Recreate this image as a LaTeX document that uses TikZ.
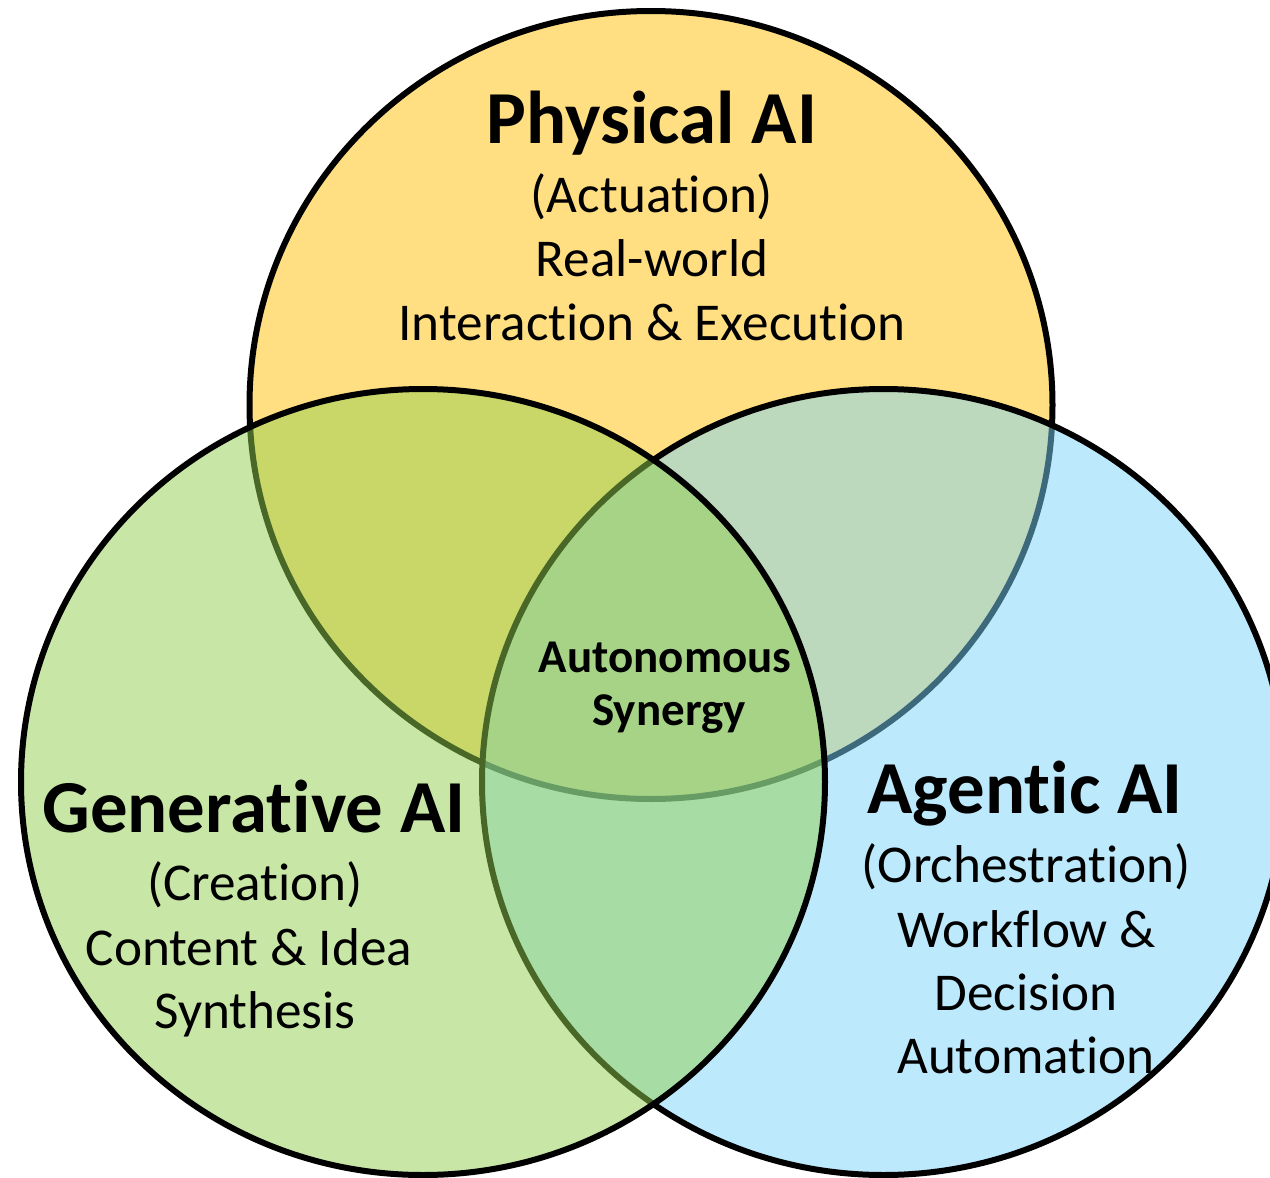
\documentclass[tikz,border=0pt]{standalone}
\usepackage{fontspec}
\setmainfont{Carlito}[Ligatures={NoCommon}]
\definecolor{physY}{RGB}{255,223,130}
\definecolor{genG}{RGB}{146,208,80}
\definecolor{agB}{RGB}{123,211,249}
\begin{document}
\begin{tikzpicture}[x=0.5pt,y=-0.5pt,
  venn/.style={line width=3pt, draw=black},
  ttl/.style={font=\fontsize{37.4}{44}\selectfont\bfseries, anchor=base, inner sep=0pt},
  bodytxt/.style={font=\fontsize{26.6}{32}\selectfont, anchor=base, inner sep=0pt},
  coretxt/.style={font=\fontsize{23.5}{28}\selectfont\bfseries, anchor=base, inner sep=0pt}]
\useasboundingbox (0,0) rectangle (1270,1178);
\clip (0,0) rectangle (1270,1178);
% Physical AI (opaque, drawn first)
\draw[venn, fill=physY] (651,405) ellipse [x radius=401.5, y radius=394];
% Agentic AI (translucent)
\draw[venn, fill=agB, fill opacity=0.5] (883.5,782) ellipse [x radius=401.5, y radius=393];
% Generative AI (translucent, on top)
\draw[venn, fill=genG, fill opacity=0.5] (423,782) ellipse [x radius=402, y radius=393];
% Physical AI text
\node[ttl] (pt) at (652,143) {Physical AI};
\node[bodytxt] (p1) at (652,212) {(Actuation)};
\node[bodytxt] (p2) at (652,276) {Real-world};
\node[bodytxt] (p3) at (652,340) {Interaction \& Execution};
% Generative AI text
\node[ttl] (gt) at (254,832) {Generative AI};
\node[bodytxt] (g1) at (255,900) {(Creation)};
\node[bodytxt] (g2) at (249,965) {Content \& Idea};
\node[bodytxt] (g3) at (255,1028) {Synthesis};
% Agentic AI text
\node[ttl] (at) at (1025,813) {Agentic AI};
\node[bodytxt] (a1) at (1026,882) {(Orchestration)};
\node[bodytxt] (a2) at (1027,947) {Workflow \&};
\node[bodytxt] (a3) at (1026,1010) {Decision};
\node[bodytxt] (a4) at (1026,1073) {Automation};
% Centre
\node[coretxt] (c1) at (665,672) {Autonomous};
\node[coretxt] (c2) at (669,725) {Synergy};
\end{tikzpicture}
\end{document}
